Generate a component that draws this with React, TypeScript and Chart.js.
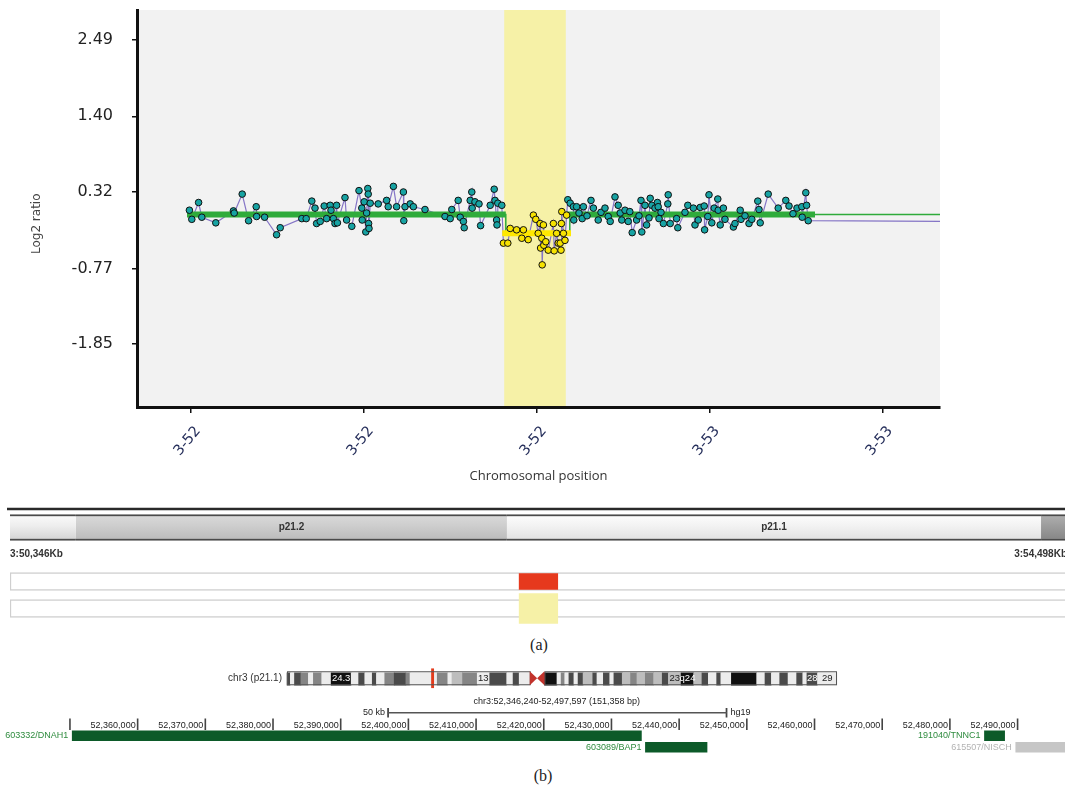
import React, { useEffect, useRef } from 'react';
import { Chart, registerables } from 'chart.js';
Chart.register(...registerables);

// ================= MAIN ARRAY-CGH PLOT =================
// x: chromosomal position (kb), y: log2 ratio
const xTickValues = [51555, 51987.5, 52420, 52852.5, 53285];
const xTickLabels = ['3-52', '3-52', '3-52', '3-53', '3-53'];
const yTickValues = [-1.85, -0.77, 0.32, 1.4, 2.49];
const yTickLabels = ['-1.85', '-0.77', '0.32', '1.40', '2.49'];
const xRange = [51420, 53427.5];
const yRange = [-2.749, 2.918];
const highlightStart = 52338;
const highlightEnd = 52492;
const xTitle = 'Chromosomal position';
const yTitle = 'Log2 ratio';

const probePos = [
  51551, 51557, 51574, 51582, 51617, 51661, 51663, 51683, 51699, 51718, 51719, 51739, 51769, 51778,
  51832, 51843, 51857, 51865, 51869, 51878, 51888, 51894, 51903, 51905, 51911, 51915, 51919, 51921,
  51940, 51944, 51957, 51975, 51982, 51983, 51988, 51992, 51994, 51997, 51998, 51999, 52000, 52003,
  52023, 52044, 52048, 52061, 52069, 52086, 52087, 52090, 52103, 52111, 52140, 52190, 52203, 52207,
  52223, 52228, 52236, 52238, 52253, 52257, 52258, 52265, 52275, 52279, 52303, 52313, 52315, 52319,
  52320, 52322, 52332,
  52497, 52503, 52511, 52512, 52519, 52525, 52533, 52536, 52545, 52555, 52561, 52573, 52580, 52590,
  52598, 52603, 52615, 52623, 52628, 52632, 52640, 52648, 52652, 52658, 52669, 52675, 52680, 52682,
  52690, 52694, 52700, 52703, 52707, 52715, 52721, 52723, 52725, 52730, 52736, 52747, 52748, 52753,
  52769, 52772, 52790, 52797, 52811, 52815, 52823, 52828, 52838, 52839, 52847, 52850, 52857, 52863,
  52872, 52873, 52878, 52886, 52890, 52911, 52915, 52928, 52930, 52940, 52950, 52957, 52972, 52975,
  52978, 52998, 53023, 53042, 53050, 53060, 53070, 53082, 53083, 53092, 53094, 53098,
];
const probeLog2 = [
  0.06, -0.07, 0.17, -0.04, -0.12, 0.05, 0.02, 0.29, -0.09, 0.11, -0.03, -0.04, -0.29, -0.19,
  -0.06, -0.06, 0.19, 0.09, -0.13, -0.1, 0.12, -0.06, 0.13, 0.06, -0.06, -0.13, 0.13, -0.12,
  0.24, -0.08, -0.17, 0.34, 0.09, -0.08, 0.18, -0.25, 0.02, 0.37, 0.29, -0.13, -0.2, 0.16,
  0.15, 0.2, 0.11, 0.4, 0.11, 0.32, -0.09, 0.11, 0.15, 0.11, 0.07, -0.03, -0.06, 0.07,
  0.2, -0.04, -0.1, -0.19, 0.2, 0.32, 0.09, 0.18, 0.15, -0.16, 0.13, 0.36, 0.2, -0.08,
  -0.15, 0.16, 0.13,
  0.21, 0.16, 0.11, -0.08, 0.11, 0.02, -0.06, 0.11, -0.02, 0.2, 0.09, -0.08, 0.03, 0.09,
  -0.03, -0.1, 0.25, 0.13, 0.02, -0.08, 0.06, -0.1, 0.04, -0.26, -0.08, -0.02, 0.2, -0.25,
  0.13, -0.15, -0.05, 0.23, 0.13, 0.09, 0.17, 0.11, -0.06, 0.03, -0.13, 0.15, 0.28, -0.13,
  -0.06, -0.19, 0.03, 0.13, 0.09, -0.15, -0.08, 0.1, 0.12, -0.22, -0.03, 0.28, -0.12, 0.09,
  0.22, 0.06, -0.15, 0.09, -0.07, -0.18, -0.13, 0.06, -0.07, -0.02, -0.13, -0.07, 0.19, 0.07,
  -0.12, 0.29, 0.09, 0.2, 0.12, 0.01, 0.09, 0.11, -0.04, 0.31, 0.13, -0.09,
];
const lossPos = [
  52336, 52347, 52353, 52369, 52382, 52386, 52398, 52411, 52417, 52423, 52428, 52429, 52432, 52433,
  52436, 52437, 52442, 52448, 52461, 52463, 52469, 52473, 52478, 52480, 52481, 52482, 52486, 52490, 52494,
];
const lossLog2 = [
  -0.41, -0.41, -0.2, -0.22, -0.34, -0.22, -0.36, -0.01, -0.07, -0.27, -0.13, -0.48, -0.34, -0.72,
  -0.15, -0.44, -0.39, -0.51, -0.13, -0.52, -0.27, -0.41, -0.41, -0.51, -0.13, 0.04, -0.27, -0.37, -0.01,
];
const rawTailPos = 53427.5;
const rawTailLog2 = -0.1;

const segStarts = [51545, 52333, 52495];
const segEnds = [52342, 52505, 53115];
const segLog2 = [0.0, -0.27, 0.0];
const segColors = ['#2fab3b', '#ffe800', '#2fab3b'];

const callPathPos = [51545, 52342, 52342, 52502, 52502, 53427.5];
const callPathLog2 = [0, 0, -0.27, -0.27, 0, 0];

// ================= PANEL (a) =================
const rowsA = ['band', 'coord', 'track1', 'track2'];
const viewStartA = 50346;
const viewEndA = 54498;
const bandStarts = [50346, 50605, 52298, 54396];
const bandEnds = [50605, 52298, 54396, 54498];
const bandLabels = ['', 'p21.2', 'p21.1', ''];
const bandShades = ['light', 'mid', 'pale', 'dark'];
const coordLabels = ['3:50,346Kb', '3:54,498Kb'];
const cnvStartA = 52346;
const cnvEndA = 52497.6;

// ================= PANEL (b) =================
const rowsB = ['ideo', 'gap', 'pos', 'scale', 'ruler', 'gene1', 'gene2'];
const viewStartB = 52346240;
const viewEndB = 52497597;
const chrLength = 198.022; // Mb
const ideoStarts = [
  0, 1.2, 2.7, 5.0, 7.7, 9.5, 12.5, 15.9, 23.1, 25.8, 28.0, 30.7, 32.2, 35.2, 38.6, 42.8, 44.3, 54.1,
  57.9, 59.4, 63.2, 68.5, 73.0, 79.1, 81.4, 83.6,
  92.7, 97.2, 98.7, 100.0, 101.5, 103.3, 104.8, 106.6, 110.1, 111.6, 113.9, 116.2, 117.7, 120.7,
  123.7, 126.0, 129.0, 132.0, 135.1, 137.3, 141.9, 146.4, 149.4, 151.7, 154.7, 156.2, 160.0, 169.1,
  172.1, 174.4, 177.4, 180.4, 183.5, 185.7, 187.2, 191.0,
];
const ideoEnds = [
  1.2, 2.7, 5.0, 7.7, 9.5, 12.5, 15.9, 23.1, 25.8, 28.0, 30.7, 32.2, 35.2, 38.6, 42.8, 44.3, 54.1, 57.9,
  59.4, 63.2, 68.5, 73.0, 79.1, 81.4, 83.6, 87.4,
  97.2, 98.7, 100.0, 101.5, 103.3, 104.8, 106.6, 110.1, 111.6, 113.9, 116.2, 117.7, 120.7, 123.7,
  126.0, 129.0, 132.0, 135.1, 137.3, 141.9, 146.4, 149.4, 151.7, 154.7, 156.2, 160.0, 169.1, 172.1,
  174.4, 177.4, 180.4, 183.5, 185.7, 187.2, 191.0, 198.022,
];
const ideoStains = [
  3, 0, 3, 2, 0, 2, 0, 4, 0, 3, 0, 3, 0, 2, 3, 2, 0, 2, 0, 1, 2, 0, 3, 0, 3, 0,
  4, 0, 2, 0, 3, 0, 3, 1, 3, 0, 3, 0, 3, 1, 2, 1, 2, 1, 3, 1, 4, 1, 3, 0, 3, 0, 4, 0, 3, 0, 3, 0, 3, 0, 3, 0,
];
const stainColors = ['#ececec', '#bdbdbd', '#858585', '#4a4a4a', '#101010'];
const ideoLabelText = ['24.3', '13', '23', 'q24', '28', '29'];
const ideoLabelAt = [19.5, 70.7, 139.6, 144.2, 189.1, 194.5];
const ideoLabelColors = ['#ffffff', '#222222', '#222222', '#ffffff', '#ffffff', '#222222'];
const cenStart = 87.4;
const cenEnd = 92.7;
const markerMb = 52.42;
const chrTitle = 'chr3 (p21.1)';
const posTitle = 'chr3:52,346,240-52,497,597 (151,358 bp)';

const scaleBarStart = 52397000;
const scaleBarEnd = 52447000;
const scaleBarLabels = ['50 kb', 'hg19'];
const rulerTicks = [
  52350000, 52360000, 52370000, 52380000, 52390000, 52400000, 52410000, 52420000,
  52430000, 52440000, 52450000, 52460000, 52470000, 52480000, 52490000,
];
const rulerLabels = [
  '', '52,360,000', '52,370,000', '52,380,000', '52,390,000', '52,400,000', '52,410,000',
  '52,420,000', '52,430,000', '52,440,000', '52,450,000', '52,460,000', '52,470,000',
  '52,480,000', '52,490,000',
];
const geneNames = ['603332/DNAH1', '603089/BAP1', '191040/TNNC1', '615507/NISCH'];
const geneStarts = [52350336, 52435020, 52485108, 52489730];
const geneEnds = [52434425, 52444121, 52488086, 52527000];
const geneRows = ['gene1', 'gene2', 'gene1', 'gene2'];
const geneColors = ['#0c5a29', '#0c5a29', '#0c5a29', '#c6c6c6'];
const geneLabelColors = ['#2f8c3f', '#2f8c3f', '#2f8c3f', '#b3b3b3'];

const NARROW = '"Liberation Sans Narrow", "Liberation Sans", Arial, sans-serif';
const DEJAVU = '"DejaVu Sans", Verdana, sans-serif';

// ---------------- main chart ----------------
function MainChart() {
  const ref = useRef<HTMLCanvasElement>(null);
  useEffect(() => {
    const probes = probePos.map((x, i) => ({ x, y: probeLog2[i] }));
    const losses = lossPos.map((x, i) => ({ x, y: lossLog2[i] }));
    const raw = [...probes, ...losses].sort((a, b) => a.x - b.x);
    raw.push({ x: rawTailPos, y: rawTailLog2 });
    const callPath = callPathPos.map((x, i) => ({ x, y: callPathLog2[i] }));
    const segDatasets = segStarts.map((s, i) => ({
      data: [{ x: s, y: segLog2[i] }, { x: segEnds[i], y: segLog2[i] }],
      showLine: true,
      borderColor: segColors[i],
      borderWidth: 6,
      borderCapStyle: 'butt',
      pointRadius: 0,
      order: 3,
    }));

    const bgPlugin = {
      id: 'bgBand',
      beforeDraw(chart: any) {
        const { ctx, chartArea: a, scales } = chart;
        const x = scales.x;
        ctx.save();
        ctx.fillStyle = '#f2f2f2';
        ctx.fillRect(a.left, a.top, a.width, a.height);
        const x0 = x.getPixelForValue(highlightStart);
        const x1 = x.getPixelForValue(highlightEnd);
        ctx.fillStyle = '#f6f1a7';
        ctx.fillRect(x0, a.top, x1 - x0, a.height);
        ctx.restore();
      },
    };

    const chart = new Chart(ref.current!, {
      type: 'scatter',
      data: {
        datasets: [
          {
            data: raw,
            showLine: true,
            borderColor: '#8575c6',
            borderWidth: 1.2,
            pointRadius: 0,
            order: 5,
          },
          {
            data: callPath,
            showLine: true,
            borderColor: '#2fab3b',
            borderWidth: 1.5,
            pointRadius: 0,
            order: 4,
          },
          ...segDatasets,
          {
            data: probes,
            showLine: false,
            pointRadius: 3.3,
            pointBackgroundColor: '#17a3a3',
            pointBorderColor: '#111111',
            pointBorderWidth: 1,
            order: 2,
          },
          {
            data: losses,
            showLine: false,
            pointRadius: 3.3,
            pointBackgroundColor: '#f6e200',
            pointBorderColor: '#111111',
            pointBorderWidth: 1,
            order: 1,
          },
        ] as any,
      },
      options: {
        responsive: false,
        animation: false,
        events: [],
        layout: { padding: { top: 10, right: 125, left: 0, bottom: 0 } },
        plugins: { legend: { display: false }, tooltip: { enabled: false } },
        scales: {
          x: {
            type: 'linear',
            min: xRange[0],
            max: xRange[1],
            afterBuildTicks: (s: any) => {
              s.ticks = xTickValues.map((v) => ({ value: v }));
            },
            afterFit: (s: any) => {
              s.height = 88;
              s.paddingLeft = 0;
              s.paddingRight = 0;
            },
            ticks: {
              autoSkip: false,
              minRotation: 50,
              maxRotation: 50,
              padding: 10,
              labelOffset: 7,
              color: '#27305c',
              font: { family: DEJAVU, size: 14.5 },
              callback: (_v: any, i: number) => xTickLabels[i],
            },
            grid: { drawOnChartArea: false, drawTicks: true, tickLength: 6, color: '#111', lineWidth: 1.5 },
            border: { display: true, color: '#111', width: 3 },
            title: {
              display: true,
              text: xTitle,
              color: '#333',
              font: { family: '"Open Sans", sans-serif', size: 13 },
              padding: { top: 0, bottom: 11 },
            },
          },
          y: {
            type: 'linear',
            min: yRange[0],
            max: yRange[1],
            afterBuildTicks: (s: any) => {
              s.ticks = yTickValues.map((v) => ({ value: v }));
            },
            afterFit: (s: any) => {
              s.width = 137;
              s.paddingTop = 0;
              s.paddingBottom = 0;
            },
            ticks: {
              autoSkip: false,
              padding: 19,
              color: '#222',
              font: { family: DEJAVU, size: 16 },
              callback: (_v: any, i: number) => yTickLabels[i],
            },
            grid: { drawOnChartArea: false, drawTicks: true, tickLength: 5, color: '#111', lineWidth: 1.5 },
            border: { display: true, color: '#111', width: 3 },
            title: {
              display: true,
              // trailing no-break spaces move the centred title down to where the original sits
              text: yTitle + '\u00a0'.repeat(8),
              color: '#444',
              font: { family: DEJAVU, size: 12 },
              padding: { top: 30, bottom: 0 },
            },
          },
        },
      } as any,
      plugins: [bgPlugin],
    });
    return () => chart.destroy();
  }, []);
  return (
    <canvas ref={ref} width={1065} height={495} style={{ position: 'absolute', left: 0, top: 0 }} />
  );
}

// ---------------- panel (a) ----------------
const shadeStops: Record<string, string[]> = {
  light: ['#fbfbfb', '#ededed', '#d2d2d2'],
  mid: ['#dadada', '#cdcdcd', '#bababa'],
  pale: ['#fdfdfd', '#f2f2f2', '#e0e0e0'],
  dark: ['#b0b0b0', '#9c9c9c', '#858585'],
};

function PanelA() {
  const ref = useRef<HTMLCanvasElement>(null);
  useEffect(() => {
    const labelPlugin = {
      id: 'panelALabels',
      afterDatasetsDraw(chart: any) {
        const { ctx, chartArea: a, scales } = chart;
        const x = scales.x;
        const y = scales.y;
        ctx.save();
        ctx.strokeStyle = '#2a2a2a';
        ctx.lineWidth = 2.5;
        ctx.beginPath();
        ctx.moveTo(x.getPixelForValue(viewStartA) - 3, a.top - 5);
        ctx.lineTo(x.getPixelForValue(viewEndA), a.top - 5);
        ctx.stroke();
        ctx.fillStyle = '#333';
        ctx.font = 'bold 10px ' + NARROW;
        ctx.textBaseline = 'middle';
        ctx.textAlign = 'center';
        const yb = y.getPixelForValue(rowsA.indexOf('band'));
        bandLabels.forEach((t, i) => {
          if (!t) return;
          const cx = (x.getPixelForValue(bandStarts[i]) + x.getPixelForValue(bandEnds[i])) / 2;
          ctx.fillText(t, cx, yb);
        });
        const yc = y.getPixelForValue(rowsA.indexOf('coord'));
        ctx.textAlign = 'left';
        ctx.fillText(coordLabels[0], x.getPixelForValue(viewStartA), yc);
        ctx.textAlign = 'right';
        ctx.fillText(coordLabels[1], x.getPixelForValue(viewEndA), yc);
        ctx.restore();
      },
    };

    const chart = new Chart(ref.current!, {
      type: 'bar',
      data: {
        labels: rowsA,
        datasets: [
          {
            data: bandStarts.map((s, i) => ({ x: [s, bandEnds[i]], y: 'band' })),
            backgroundColor: (c: any) => {
              const stops = shadeStops[bandShades[c.dataIndex]] || shadeStops.light;
              const chart = c.chart;
              const ys = chart.scales && chart.scales.y;
              if (!chart.chartArea || !ys) return stops[1];
              const cy = ys.getPixelForValue(0);
              const g = chart.ctx.createLinearGradient(0, cy - 13, 0, cy + 13);
              g.addColorStop(0, stops[0]);
              g.addColorStop(0.45, stops[1]);
              g.addColorStop(1, stops[2]);
              return g;
            },
            borderColor: '#4a4a4a',
            borderWidth: { top: 2, bottom: 2, left: 0, right: 0 },
            borderSkipped: false,
            barThickness: 26,
            grouped: false,
            order: 3,
          },
          {
            data: [
              { x: [viewStartA, viewEndA], y: 'track1' },
              { x: [viewStartA, viewEndA], y: 'track2' },
            ],
            backgroundColor: '#ffffff',
            borderColor: '#cfcfcf',
            borderWidth: 1.5,
            borderSkipped: false,
            barThickness: 18,
            grouped: false,
            order: 3,
          },
          {
            data: [{ x: [cnvStartA, cnvEndA], y: 'track1' }],
            backgroundColor: '#e6391d',
            borderWidth: 0,
            barThickness: 16,
            grouped: false,
            order: 1,
          },
          {
            data: [{ x: [cnvStartA, cnvEndA], y: 'track2' }],
            backgroundColor: '#f6f1a7',
            borderWidth: 0,
            barThickness: 30,
            grouped: false,
            clip: false,
            order: 1,
          },
        ] as any,
      },
      options: {
        indexAxis: 'y',
        responsive: false,
        animation: false,
        events: [],
        layout: { padding: { top: 14, bottom: 8, left: 10, right: 3 } },
        plugins: { legend: { display: false }, tooltip: { enabled: false } },
        scales: {
          x: { type: 'linear', min: viewStartA, max: viewEndA, display: false },
          y: { type: 'category', labels: rowsA, display: false, offset: true },
        },
      } as any,
      plugins: [labelPlugin],
    });
    return () => chart.destroy();
  }, []);
  return (
    <canvas ref={ref} width={1070} height={130} style={{ position: 'absolute', left: 0, top: 500 }} />
  );
}

// ---------------- panel (b) ----------------
function PanelB() {
  const ref = useRef<HTMLCanvasElement>(null);
  useEffect(() => {
    const x2Min = -87.31;
    const x2Max = 281.55;
    const textPlugin = {
      id: 'panelBText',
      afterDatasetsDraw(chart: any) {
        const { ctx, scales } = chart;
        const x = scales.x;
        const x2 = scales.x2;
        const y = scales.y;
        const row = (r: string) => y.getPixelForValue(rowsB.indexOf(r));
        ctx.save();
        // ideogram outline and centromere
        const yi = row('ideo');
        const top = yi - 7;
        const bot = yi + 7;
        const p0 = x2.getPixelForValue(0);
        const c0 = x2.getPixelForValue(cenStart);
        const c1 = x2.getPixelForValue(cenEnd);
        const cm = (c0 + c1) / 2;
        const pe = x2.getPixelForValue(chrLength);
        ctx.strokeStyle = '#555';
        ctx.lineWidth = 1;
        ctx.strokeRect(p0 + 0.5, top + 0.5, c0 - p0, bot - top - 1);
        ctx.strokeRect(c1 + 0.5, top + 0.5, pe - c1 - 1, bot - top - 1);
        ctx.fillStyle = '#c2332c';
        ctx.beginPath();
        ctx.moveTo(c0, top);
        ctx.lineTo(cm, yi);
        ctx.lineTo(c0, bot);
        ctx.closePath();
        ctx.fill();
        ctx.beginPath();
        ctx.moveTo(c1, top);
        ctx.lineTo(cm, yi);
        ctx.lineTo(c1, bot);
        ctx.closePath();
        ctx.fill();
        // ideogram labels
        ctx.font = '9.5px "Liberation Sans", Arial, sans-serif';
        ctx.textAlign = 'center';
        ctx.textBaseline = 'middle';
        ideoLabelText.forEach((t, i) => {
          ctx.fillStyle = ideoLabelColors[i];
          ctx.fillText(t, x2.getPixelForValue(ideoLabelAt[i]), yi + 0.5);
        });
        ctx.fillStyle = '#333';
        ctx.font = '10px "Liberation Sans", Arial, sans-serif';
        ctx.textAlign = 'right';
        ctx.fillText(chrTitle, p0 - 5, yi);
        // position title
        ctx.font = '9px ' + NARROW;
        ctx.textAlign = 'center';
        ctx.fillStyle = '#222';
        ctx.fillText(posTitle, x.getPixelForValue((viewStartB + viewEndB) / 2), row('pos'));
        // scale bar labels
        const ys = row('scale');
        ctx.textAlign = 'right';
        ctx.fillText(scaleBarLabels[0], x.getPixelForValue(scaleBarStart) - 3, ys);
        ctx.textAlign = 'left';
        ctx.fillText(scaleBarLabels[1], x.getPixelForValue(scaleBarEnd) + 4, ys);
        // ruler labels
        const yr = row('ruler') + 1;
        ctx.textAlign = 'right';
        rulerTicks.forEach((t, i) => {
          if (!rulerLabels[i]) return;
          ctx.fillText(rulerLabels[i], x.getPixelForValue(t) - 2, yr);
        });
        // gene labels
        geneNames.forEach((n, i) => {
          ctx.fillStyle = geneLabelColors[i];
          ctx.fillText(n, x.getPixelForValue(geneStarts[i]) - 4, row(geneRows[i]));
        });
        ctx.restore();
      },
    };

    const chart = new Chart(ref.current!, {
      type: 'bar',
      data: {
        labels: rowsB,
        datasets: [
          {
            xAxisID: 'x2',
            data: [{ x: [markerMb - 0.4, markerMb + 0.4], y: 'ideo' }],
            backgroundColor: '#e33b1c',
            barThickness: 19,
            grouped: false,
            clip: false,
            order: 1,
          },
          {
            xAxisID: 'x2',
            data: ideoStarts.map((s, i) => ({ x: [s, ideoEnds[i]], y: 'ideo' })),
            backgroundColor: ideoStains.map((k) => stainColors[k]),
            barThickness: 14,
            grouped: false,
            order: 3,
          },
          {
            xAxisID: 'x',
            data: geneStarts.map((s, i) => ({ x: [s, geneEnds[i]], y: geneRows[i] })),
            backgroundColor: geneColors,
            barThickness: 10,
            grouped: false,
            order: 2,
          },
          {
            xAxisID: 'x',
            data: [{ x: [scaleBarStart, scaleBarEnd], y: 'scale' }],
            backgroundColor: '#555',
            barThickness: 1,
            grouped: false,
            order: 2,
          },
          {
            xAxisID: 'x',
            data: [
              { x: [scaleBarStart - 80, scaleBarStart + 80], y: 'scale' },
              { x: [scaleBarEnd - 80, scaleBarEnd + 80], y: 'scale' },
            ],
            backgroundColor: '#444',
            barThickness: 9,
            grouped: false,
            order: 2,
          },
          {
            xAxisID: 'x',
            data: rulerTicks.map((t) => ({ x: [t - 70, t + 70], y: 'ruler' })),
            backgroundColor: '#444',
            barThickness: 11,
            grouped: false,
            order: 2,
          },
        ] as any,
      },
      options: {
        indexAxis: 'y',
        responsive: false,
        animation: false,
        events: [],
        layout: { padding: { top: 12.5, bottom: 7, left: 44.5, right: 1 } },
        plugins: { legend: { display: false }, tooltip: { enabled: false } },
        scales: {
          x: { type: 'linear', min: viewStartB, max: viewEndB, display: false },
          x2: { type: 'linear', axis: 'x', position: 'bottom', min: x2Min, max: x2Max, display: false },
          y: { type: 'category', labels: rowsB, display: false, offset: true },
        },
      } as any,
      plugins: [textPlugin],
    });
    return () => chart.destroy();
  }, []);
  return (
    <canvas ref={ref} width={1070} height={100} style={{ position: 'absolute', left: 0, top: 660 }} />
  );
}

export default function App() {
  const capStyle: React.CSSProperties = {
    position: 'absolute',
    fontFamily: '"Liberation Serif", "DejaVu Serif", serif',
    fontSize: 16,
    color: '#222',
    lineHeight: '18px',
    width: 40,
    textAlign: 'center',
  };
  return (
    <div
      style={{
        position: 'absolute',
        left: 0,
        top: 0,
        width: 1065,
        height: 792,
        overflow: 'hidden',
        background: '#ffffff',
      }}
    >
      <MainChart />
      <PanelA />
      <div style={{ ...capStyle, left: 519, top: 636 }}>(a)</div>
      <PanelB />
      <div style={{ ...capStyle, left: 523, top: 767 }}>(b)</div>
    </div>
  );
}
